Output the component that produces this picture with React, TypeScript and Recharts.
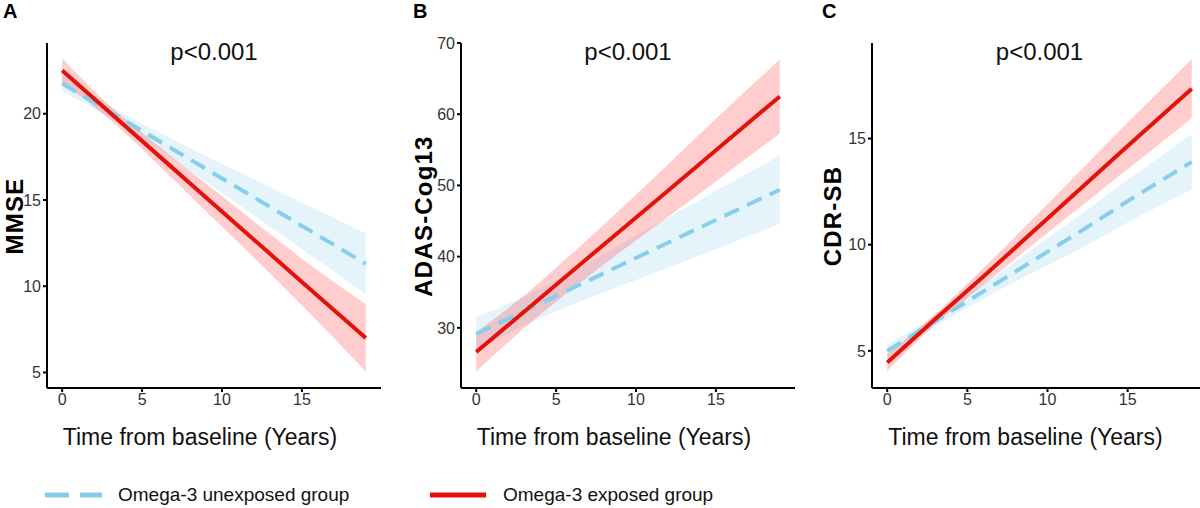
import React from "react"
import { ComposedChart, Area, Line, XAxis, YAxis } from "recharts"

const years = [0, 3, 6, 9, 12, 15, 19]
const xTicks = [0, 5, 10, 15]

// MMSE
const mmseUnexposed = [21.75, 20.1, 18.45, 16.8, 15.15, 13.5, 11.3]
const mmseUnexposedLow = [21.3, 19.75, 17.95, 16.05, 14.1, 12.15, 9.55]
const mmseUnexposedHigh = [22.2, 20.45, 18.95, 17.55, 16.2, 14.85, 13.05]
const mmseExposed = [22.5, 20.05, 17.6, 15.15, 12.7, 10.25, 7.0]
const mmseExposedLow = [21.8, 19.65, 17.05, 14.35, 11.65, 8.9, 5.05]
const mmseExposedHigh = [23.2, 20.45, 18.15, 15.95, 13.75, 11.6, 8.95]

// ADAS-Cog13
const adasUnexposed = [29.15, 32.35, 35.55, 38.75, 41.95, 45.15, 49.4]
const adasUnexposedLow = [26.75, 30.35, 33.25, 35.85, 38.45, 41.05, 44.6]
const adasUnexposedHigh = [31.55, 34.35, 37.85, 41.65, 45.45, 49.25, 54.2]
const adasExposed = [26.6, 32.25, 37.95, 43.6, 49.25, 54.95, 62.5]
const adasExposedLow = [23.85, 29.95, 35.45, 40.6, 45.55, 50.55, 57.3]
const adasExposedHigh = [29.35, 34.55, 40.45, 46.6, 52.95, 59.35, 67.7]

// CDR-SB
const cdrUnexposed = [5.0, 6.4, 7.8, 9.2, 10.6, 12.05, 13.9]
const cdrUnexposedLow = [4.7, 6.15, 7.45, 8.65, 9.8, 11.05, 12.6]
const cdrUnexposedHigh = [5.3, 6.65, 8.15, 9.75, 11.4, 13.05, 15.2]
const cdrExposed = [4.45, 6.5, 8.5, 10.55, 12.6, 14.65, 17.35]
const cdrExposedLow = [4.05, 6.25, 8.1, 9.95, 11.75, 13.55, 15.95]
const cdrExposedHigh = [4.85, 6.75, 8.9, 11.15, 13.45, 15.75, 18.75]

const FONT = '"Liberation Sans", Arial, Helvetica, sans-serif'
const BLUE = "#87ceeb"
const RED = "#e3120b"

function buildRows(
  unexposed: number[],
  unexposedLow: number[],
  unexposedHigh: number[],
  exposed: number[],
  exposedLow: number[],
  exposedHigh: number[]
) {
  return years.map((x, i) => ({
    x,
    blue: unexposed[i],
    blueBand: [unexposedLow[i], unexposedHigh[i]],
    red: exposed[i],
    redBand: [exposedLow[i], exposedHigh[i]],
  }))
}

type PanelProps = {
  letter: string
  letterX: number
  yLabel: string
  yLabelX: number
  axisX: number
  plotWidth: number
  yDomain: [number, number]
  yTicks: number[]
  rows: ReturnType<typeof buildRows>
}

const Y_AXIS_W = 44
const tickStyle = { fill: "#333", fontSize: 16, fontFamily: FONT }

function Panel({ letter, letterX, yLabel, yLabelX, axisX, plotWidth, yDomain, yTicks, rows }: PanelProps) {
  const plotCenter = axisX + plotWidth / 2
  return (
    <>
      <div style={{ position: "absolute", left: letterX, top: 0, fontFamily: FONT, fontWeight: 700, fontSize: 20 }}>
        {letter}
      </div>
      <div
        style={{
          position: "absolute",
          left: yLabelX,
          top: 216,
          transform: "translate(-50%, -50%) rotate(-90deg)",
          fontFamily: FONT,
          fontWeight: 700,
          fontSize: 24,
          letterSpacing: 1.2,
          whiteSpace: "nowrap",
        }}
      >
        {yLabel}
      </div>
      <div
        style={{
          position: "absolute",
          left: plotCenter,
          top: 52,
          transform: "translate(-50%, -50%)",
          fontFamily: FONT,
          fontSize: 24,
          color: "#111",
          whiteSpace: "nowrap",
        }}
      >
        p&lt;0.001
      </div>
      <div
        style={{
          position: "absolute",
          left: plotCenter - 14,
          top: 437,
          transform: "translate(-50%, -50%)",
          fontFamily: FONT,
          fontSize: 23,
          color: "#111",
          whiteSpace: "nowrap",
        }}
      >
        Time from baseline (Years)
      </div>
      <div style={{ position: "absolute", left: axisX - Y_AXIS_W, top: 0 }}>
        <ComposedChart
          width={Y_AXIS_W + plotWidth}
          height={420}
          data={rows}
          margin={{ top: 43, right: 0, bottom: 0, left: 0 }}
        >
          <XAxis
            dataKey="x"
            type="number"
            domain={[-0.95, 19.95]}
            ticks={xTicks}
            allowDataOverflow
            height={32}
            axisLine={{ stroke: "#000", strokeWidth: 2 }}
            tickLine={{ stroke: "#000", strokeWidth: 2 }}
            tickSize={4}
            tickMargin={2}
            tick={tickStyle}
          />
          <YAxis
            type="number"
            domain={yDomain}
            ticks={yTicks}
            allowDataOverflow
            width={Y_AXIS_W}
            axisLine={{ stroke: "#000", strokeWidth: 2 }}
            tickLine={{ stroke: "#000", strokeWidth: 2 }}
            tickSize={4}
            tickMargin={2}
            tick={tickStyle}
          />
          <Area
            dataKey="blueBand"
            type="monotone"
            stroke="none"
            fill={BLUE}
            fillOpacity={0.22}
            isAnimationActive={false}
          />
          <Line
            dataKey="blue"
            type="linear"
            stroke={BLUE}
            strokeWidth={4}
            strokeDasharray="16 9"
            dot={false}
            activeDot={false}
            isAnimationActive={false}
          />
          <Area
            dataKey="redBand"
            type="monotone"
            stroke="none"
            fill="#ff1a1a"
            fillOpacity={0.22}
            isAnimationActive={false}
          />
          <Line
            dataKey="red"
            type="linear"
            stroke={RED}
            strokeWidth={4}
            dot={false}
            activeDot={false}
            isAnimationActive={false}
          />
        </ComposedChart>
      </div>
    </>
  )
}

export default function App() {
  const mmseRows = buildRows(mmseUnexposed, mmseUnexposedLow, mmseUnexposedHigh, mmseExposed, mmseExposedLow, mmseExposedHigh)
  const adasRows = buildRows(adasUnexposed, adasUnexposedLow, adasUnexposedHigh, adasExposed, adasExposedLow, adasExposedHigh)
  const cdrRows = buildRows(cdrUnexposed, cdrUnexposedLow, cdrUnexposedHigh, cdrExposed, cdrExposedLow, cdrExposedHigh)

  return (
    <div
      style={{
        position: "fixed",
        left: 0,
        top: 0,
        width: 1200,
        height: 508,
        overflow: "hidden",
        background: "#fff",
      }}
    >
      <Panel
        letter="A"
        letterX={3}
        yLabel="MMSE"
        yLabelX={15}
        axisX={47}
        plotWidth={334}
        yDomain={[4.1, 24.1]}
        yTicks={[5, 10, 15, 20]}
        rows={mmseRows}
      />
      <Panel
        letter="B"
        letterX={413}
        yLabel="ADAS-Cog13"
        yLabelX={424}
        axisX={461}
        plotWidth={334}
        yDomain={[21.55, 70]}
        yTicks={[30, 40, 50, 60, 70]}
        rows={adasRows}
      />
      <Panel
        letter="C"
        letterX={822}
        yLabel="CDR-SB"
        yLabelX={833}
        axisX={872}
        plotWidth={335}
        yDomain={[3.25, 19.5]}
        yTicks={[5, 10, 15]}
        rows={cdrRows}
      />

      {/* legend */}
      <svg style={{ position: "absolute", left: 0, top: 480 }} width={600} height={30}>
        <line x1={45} x2={102} y1={15} y2={15} stroke={BLUE} strokeWidth={5} strokeDasharray="24 11" />
        <line x1={430} x2={486} y1={15} y2={15} stroke={RED} strokeWidth={5} />
      </svg>
      <div
        style={{ position: "absolute", left: 118, top: 495, transform: "translateY(-50%)", fontFamily: FONT, fontSize: 19, color: "#111", whiteSpace: "nowrap" }}
      >
        Omega-3 unexposed group
      </div>
      <div
        style={{ position: "absolute", left: 503, top: 495, transform: "translateY(-50%)", fontFamily: FONT, fontSize: 19, color: "#111", whiteSpace: "nowrap" }}
      >
        Omega-3 exposed group
      </div>
    </div>
  )
}
